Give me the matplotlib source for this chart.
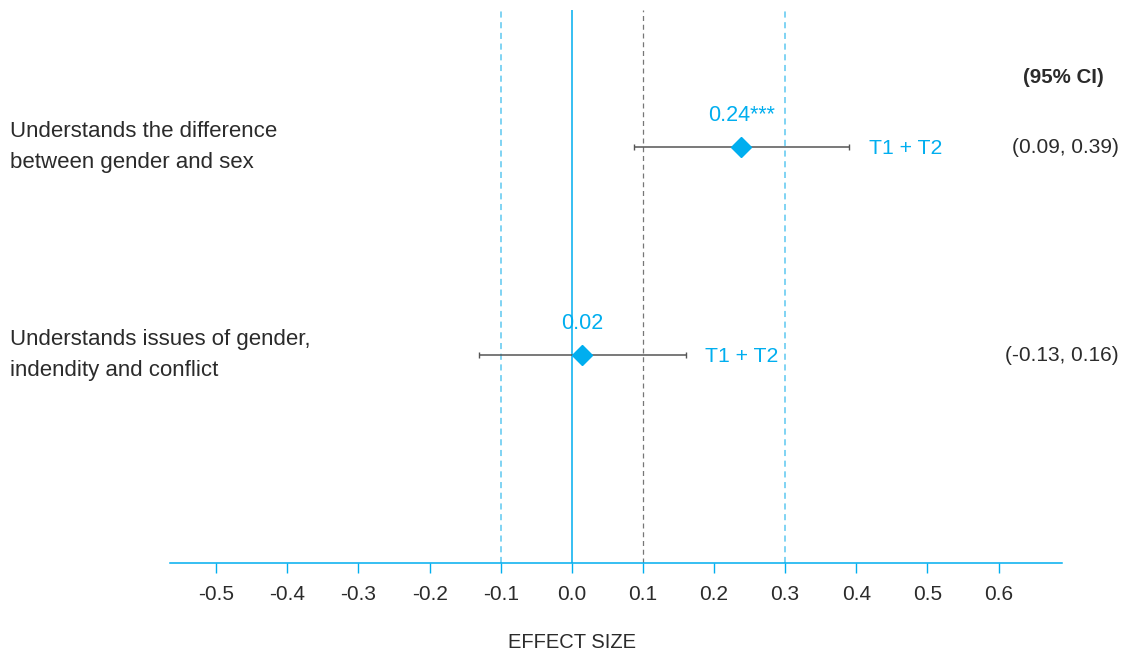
import matplotlib.pyplot as plt
from matplotlib.transforms import blended_transform_factory

plt.rcParams['font.family'] = ['Liberation Sans', 'DejaVu Sans']

outcomes = ['Understands the difference\nbetween gender and sex',
            'Understands issues of gender,\nindendity and conflict']
effects = [0.238, 0.014]
ci_low = [0.088, -0.13]
ci_high = [0.39, 0.16]
effect_labels = ['0.24***', '0.02']
ci_labels = ['(0.09, 0.39)', '(-0.13, 0.16)']
group_label = 'T1 + T2'
ticks = [-0.5, -0.4, -0.3, -0.2, -0.1, 0.0, 0.1, 0.2, 0.3, 0.4, 0.5, 0.6]
rows = [2, 1]

blue = '#00aeef'
light_blue = '#5cc8f0'
dark = '#2b2b2b'

fig = plt.figure(figsize=(11.26, 6.55), dpi=100)
ax = fig.add_axes([0.151, 0.1405, 0.792, 0.8442])
ax.set_xlim(-0.565, 0.689)
ax.set_ylim(0, 2.66)

# reference lines
ax.axvline(0, color=blue, lw=1.1)
ax.axvline(-0.1, color=light_blue, lw=1.1, ls=(0, (4, 3)))
ax.axvline(0.3, color=light_blue, lw=1.1, ls=(0, (4, 3)))
ax.axvline(0.1, color='#777777', lw=0.9, ls=(0, (4, 3)))

for y, e, lo, hi, el in zip(rows, effects, ci_low, ci_high, effect_labels):
    ax.errorbar(e, y, xerr=[[e - lo], [hi - e]], fmt='none', ecolor='#555555',
                elinewidth=1.1, capsize=2, capthick=1)
    ax.plot(e, y, marker='D', ms=10, color=blue, mec=blue, zorder=5)
    ax.annotate(el, (e, y), xytext=(0, 23), textcoords='offset points',
                ha='center', va='center', color=blue, fontsize=15.5)
    ax.annotate(group_label, (hi, y), xytext=(14, -1), textcoords='offset points',
                ha='left', va='center', color=blue, fontsize=15.3)

tr = blended_transform_factory(fig.transFigure, ax.transData)
for y, lab, ci in zip(rows, outcomes, ci_labels):
    ax.text(10 / 1126, y, lab, transform=tr, ha='left', va='center',
            color=dark, fontsize=16, linespacing=1.6)
    ax.text(1119 / 1126, y, ci, transform=tr, ha='right', va='center',
            color=dark, fontsize=15)
ax.text(1104 / 1126, 2.337, '(95% CI)', transform=tr, ha='right', va='center',
        color=dark, fontsize=14.8, fontweight='bold')

for s in ['left', 'right', 'top']:
    ax.spines[s].set_visible(False)
ax.spines['bottom'].set_color(blue)
ax.spines['bottom'].set_linewidth(1.1)
ax.set_yticks([])
ax.set_xticks(ticks)
ax.set_xticklabels([f'{t:.1f}' for t in ticks])
ax.tick_params(axis='x', colors=blue, length=7, width=1, labelcolor=dark,
               labelsize=15, pad=9)
ax.set_xlabel('EFFECT SIZE', color=dark, fontsize=14.5)
ax.xaxis.set_label_coords((0 + 0.565) / (0.689 + 0.565), -0.126)

fig.savefig('out.png', dpi=100)
